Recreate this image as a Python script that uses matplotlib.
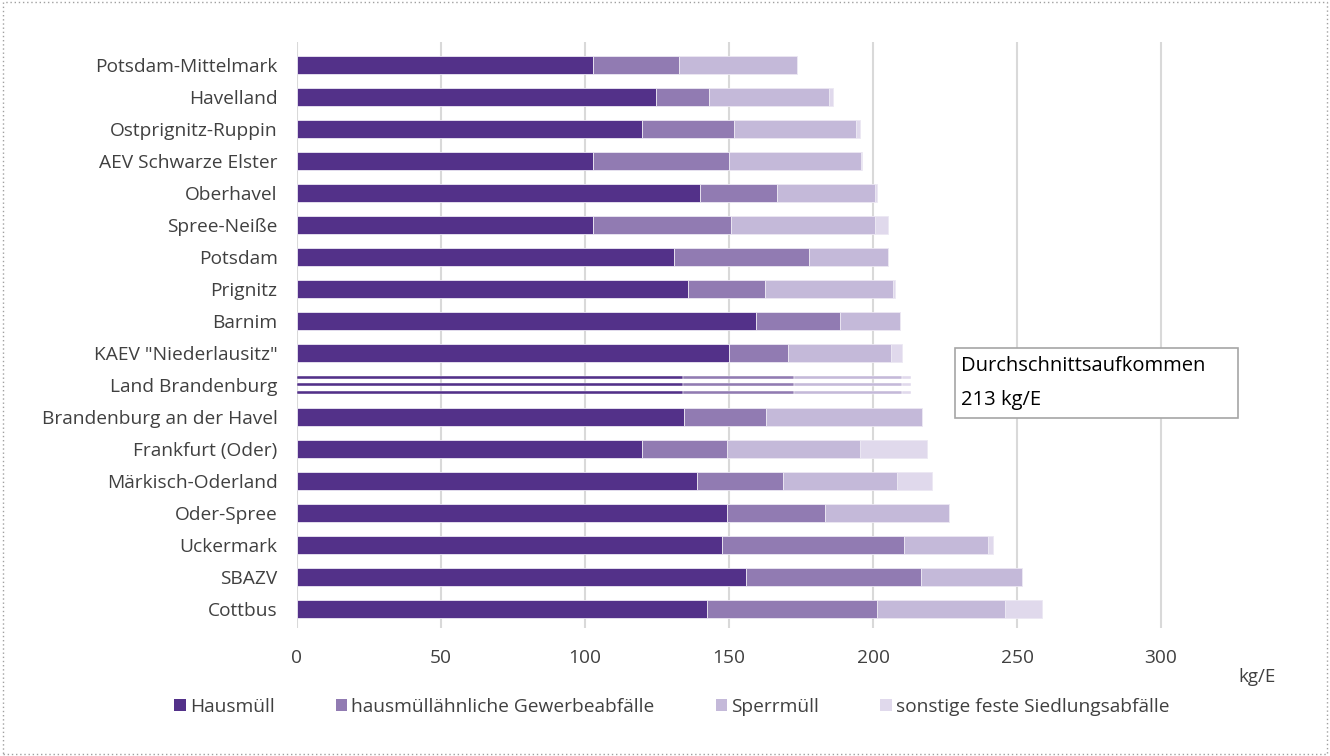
import matplotlib
matplotlib.use("Agg")
import matplotlib.pyplot as plt
from matplotlib.patches import Rectangle, Patch

plt.rcParams['font.family'] = ['Open Sans', 'DejaVu Sans']

regionen = [
    "Potsdam-Mittelmark", "Havelland", "Ostprignitz-Ruppin", "AEV Schwarze Elster",
    "Oberhavel", "Spree-Neiße", "Potsdam", "Prignitz", "Barnim", 'KAEV "Niederlausitz"',
    "Land Brandenburg", "Brandenburg an der Havel", "Frankfurt (Oder)", "Märkisch-Oderland",
    "Oder-Spree", "Uckermark", "SBAZV", "Cottbus",
]
hausmuell = [102.9, 124.8, 119.8, 102.7, 139.8, 102.9, 131.0, 135.9, 159.5, 150.1,
             133.9, 134.4, 119.9, 139.0, 149.4, 147.7, 156.0, 142.5]
gewerbe = [29.8, 18.4, 32.0, 47.4, 27.0, 47.9, 46.9, 26.7, 29.0, 20.4,
           38.5, 28.6, 29.5, 29.6, 34.0, 63.0, 60.7, 59.0]
sperrmuell = [40.8, 41.6, 42.3, 45.7, 33.9, 49.8, 27.3, 44.4, 21.0, 35.8,
              37.7, 54.0, 46.2, 39.8, 43.1, 29.2, 34.9, 44.4]
sonstige = [0.0, 1.2, 1.3, 0.3, 0.7, 4.6, 0.0, 0.6, 0.0, 3.9,
            3.1, 0.0, 23.2, 12.2, 0.0, 1.8, 0.0, 12.8]

serien = ["Hausmüll", "hausmüllähnliche Gewerbeabfälle", "Sperrmüll", "sonstige feste Siedlungsabfälle"]
farben = ["#533189", "#917bb2", "#c4b9d9", "#e0d9ec"]
werte = [hausmuell, gewerbe, sperrmuell, sonstige]

fig = plt.figure(figsize=(13.3, 7.56), dpi=100)
ax = fig.add_axes([297 / 1330, 1 - 628 / 756, 1008 / 1330, 586 / 756])

for i, name in enumerate(regionen):
    links = 0.0
    for k in range(4):
        v = werte[k][i]
        if name == "Land Brandenburg":
            # Landesdurchschnitt als drei dünne Streifen
            for off in (-0.245, 0.0, 0.245):
                ax.barh(i + off, v, left=links, height=0.09, color=farben[k],
                        edgecolor="white", linewidth=0.3, zorder=3)
        else:
            ax.barh(i, v, left=links, height=0.56, color=farben[k],
                    edgecolor="#ece8f3", linewidth=0.6, zorder=3)
        links += v

ax.set_xlim(0, 350)
ax.set_ylim(17.6, -0.72)
ax.set_yticks(range(len(regionen)))
ax.set_yticklabels(regionen)
ax.set_xticks([0, 50, 100, 150, 200, 250, 300])
ax.tick_params(axis="both", length=0, labelsize=13.8, labelcolor="#404040")
ax.tick_params(axis="y", pad=14)
ax.tick_params(axis="x", pad=15)
ax.grid(axis="x", color="#d9d9d9", linewidth=1.5, zorder=0)
for s in ax.spines.values():
    s.set_visible(False)

fig.text(1238 / 1330, 1 - 677 / 756, "kg/E", fontsize=13.5, color="#404040", va="center", ha="left")

# Kasten mit dem Durchschnitt
ax.add_patch(Rectangle((228.5, 8.84), 98.2, 2.19, facecolor="white", edgecolor="#a6a6a6",
                       linewidth=1.2, zorder=5))
ax.text(230.5, 9.4, "Durchschnittsaufkommen", fontsize=14.5, color="black",
        va="center", ha="left", zorder=6)
ax.text(230.5, 10.47, "213 kg/E", fontsize=14.5, color="black",
        va="center", ha="left", zorder=6)

handles = [Patch(facecolor=c, edgecolor="none") for c in farben]
fig.legend(handles, serien, loc="center", bbox_to_anchor=(0.505, 1 - 707 / 756), ncol=4,
           frameon=False, fontsize=13.8, handlelength=0.6, handleheight=0.6, handletextpad=0.2,
           columnspacing=3.2, labelcolor="#404040")

fig.patches.append(Rectangle((0.002, 0.003), 0.996, 0.994, transform=fig.transFigure,
                             fill=False, edgecolor="#a0a0a0", linestyle=(0, (1, 2)), linewidth=1))

fig.savefig("out.png", dpi=100)
